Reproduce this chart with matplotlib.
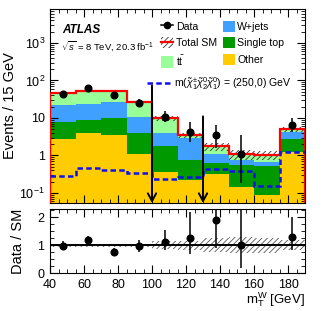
import numpy as np
import matplotlib
matplotlib.use("Agg")
import matplotlib.pyplot as plt
from matplotlib.patches import Patch
from matplotlib.lines import Line2D
from matplotlib.ticker import FixedLocator, MultipleLocator, NullFormatter, LogLocator

plt.rcParams['font.family'] = ['Liberation Sans', 'DejaVu Sans']
plt.rcParams['mathtext.fontset'] = 'custom'
plt.rcParams['mathtext.rm'] = 'Liberation Sans'
plt.rcParams['mathtext.it'] = 'Liberation Sans:italic'
plt.rcParams['mathtext.bf'] = 'Liberation Sans:bold'
plt.rcParams['hatch.linewidth'] = 0.6

# ---- data ----
edges = [40, 55, 70, 85, 100, 115, 130, 145, 160, 175, 190]
other = [2.7, 3.9, 3.6, 1.08, 0.37, 0.22, 0.33, 0.146, 0.087, 1.2]
single_top = [5.3, 4.8, 6.1, 2.82, 1.43, 0.53, 0.28, 0.41, 0.43, 1.52]
w_jets = [13.5, 15.3, 16.3, 6.9, 2.1, 2.09, 0.49, 0.22, 0.16, 1.58]
ttbar = [23.5, 28.0, 26.0, 15.2, 5.8, 0.61, 0.67, 0.29, 0.34, 0.7]
rel_unc = [0.06, 0.06, 0.06, 0.06, 0.14, 0.16, 0.25, 0.28, 0.27, 0.17]
signal = [0.28, 0.47, 0.42, 0.34, 0.23, 0.26, 0.43, 0.39, 0.155, 1.2]
data = [44, 61, 40, 25, 10.7, 4.3, 3.4, 1.07, np.nan, 6.4]
data_err_lo = [6.6, 7.8, 6.3, 5.0, 2.8, 2.0, 1.8, 0.88, np.nan, 2.3]
data_err_hi = [7.7, 8.8, 7.4, 6.1, 4.3, 3.3, 3.1, 2.5, np.nan, 3.7]
arrow_x = [100, 130]
arrow_top = [73, 11]

c_other = '#ffcc00'
c_st = '#009900'
c_w = '#3fa0ff'
c_tt = '#99ff99'

edges_a = np.array(edges, float)
centers = 0.5 * (edges_a[1:] + edges_a[:-1])
comps = [np.array(other), np.array(single_top), np.array(w_jets), np.array(ttbar)]
colors = [c_other, c_st, c_w, c_tt]
total = np.sum(comps, axis=0)
unc = np.array(rel_unc)
d = np.array(data, float)
elo = np.array(data_err_lo, float)
ehi = np.array(data_err_hi, float)

YLO, YHI = 0.054, 8000

fig = plt.figure(figsize=(3.24, 3.11), dpi=100)
ax = fig.add_axes([50/324, 1-203/311, 255/324, 194/311])
ax2 = fig.add_axes([50/324, 1-273/311, 255/324, 64/311])

# stack
base = np.full(len(total), 1e-4)
for comp, col in zip(comps, colors):
    ax.stairs(base + comp, edges_a, baseline=base, fill=True, color=col, lw=0, zorder=1)
    base = base + comp

# uncertainty hatch
ax.stairs(total*(1+unc), edges_a, baseline=total*(1-unc), fill=True, facecolor='none',
          edgecolor='#333333', hatch='//////', lw=0, zorder=2)
# total line
ax.stairs(total, edges_a, baseline=1e-4, color='red', lw=1.6, zorder=3)
# signal
ax.stairs(signal, edges_a, baseline=None, color='#1010ee', lw=1.8, ls=(0, (2.2, 1.3)), zorder=4)
# data
ax.errorbar(centers, d, yerr=[elo, ehi], fmt='o', color='black', ms=4.8, lw=1.1,
            capsize=0, zorder=6)
# arrows
for xa, yt in zip(arrow_x, arrow_top):
    ax.annotate('', xy=(xa, YLO), xytext=(xa, yt),
                arrowprops=dict(arrowstyle='->,head_length=0.55,head_width=0.3', lw=1.4,
                                color='black', shrinkA=0, shrinkB=0),
                annotation_clip=False, zorder=7)

ax.set_yscale('log')
ax.set_xlim(40, 190)
ax.set_ylim(YLO, YHI)
ax.yaxis.set_major_locator(FixedLocator([0.1, 1, 10, 100, 1000]))
ax.set_yticklabels([r'$10^{-1}$', '1', '10', r'$10^{2}$', r'$10^{3}$'])
ax.yaxis.set_minor_locator(LogLocator(base=10, subs=np.arange(2, 10), numticks=20))
ax.yaxis.set_minor_formatter(NullFormatter())
ax.xaxis.set_major_locator(MultipleLocator(20))
ax.xaxis.set_minor_locator(MultipleLocator(5))
ax.set_xticklabels([])
ax.set_ylabel('Events / 15 GeV', fontsize=10.5, labelpad=2)
for a in (ax, ax2):
    a.tick_params(which='both', direction='in', top=True, right=True, labelsize=9)
    a.tick_params(which='major', length=6, width=0.8)
    a.tick_params(which='minor', length=3, width=0.6)

# texts
ax.text(0.047, 0.89, 'ATLAS', transform=ax.transAxes, fontsize=8.5, fontweight='bold',
        fontstyle='italic', va='center', ha='left')
ax.text(0.043, 0.81, r'$\sqrt{s}$ = 8 TeV, 20.3 fb$^{-1}$', transform=ax.transAxes,
        fontsize=6.8, va='center', ha='left')

# legend
h_data = Line2D([], [], marker='o', color='black', ms=4.5, lw=1.1)
h_tot = (Patch(facecolor='none', edgecolor='#333333', hatch='//////', lw=0),
         Line2D([], [], color='red', lw=1.6))
h_tt = Patch(facecolor=c_tt, lw=0)
h_w = Patch(facecolor=c_w, lw=0)
h_st = Patch(facecolor=c_st, lw=0)
h_o = Patch(facecolor=c_other, lw=0)
leg = ax.legend([h_data, h_tot, h_tt, h_w, h_st, h_o],
                ['Data', 'Total SM', r'$\mathrm{t\bar{t}}$', 'W+jets', 'Single top', 'Other'],
                ncol=2, loc='upper left', bbox_to_anchor=(0.435, 0.94), frameon=False,
                fontsize=7.6, handlelength=1.15, handleheight=1.25, handletextpad=0.25,
                labelspacing=0.5, columnspacing=0.55, borderpad=0, borderaxespad=0)
ax.add_artist(leg)
h_sig = Line2D([], [], color='#1010ee', lw=1.8, ls=(0, (2.2, 1.3)))
ax.legend([h_sig], [r'm($\tilde{\chi}_1^{\pm}\tilde{\chi}_2^{0}\tilde{\chi}_1^{0}$) = (250,0) GeV'],
          loc='upper left', bbox_to_anchor=(0.38, 0.66), frameon=False, fontsize=7.6,
          handlelength=2.4, handletextpad=0.2, borderpad=0, borderaxespad=0)

# ratio panel
ratio = d / total
ax2.stairs(1+unc, edges_a, baseline=1-unc, fill=True, facecolor='none',
           edgecolor='#555555', hatch='//////', lw=0, zorder=1)
ax2.axhline(1, color='black', lw=1.4, zorder=2)
ax2.errorbar(centers, ratio, yerr=[elo/total, ehi/total], fmt='o', color='black', ms=4.8,
             lw=1.1, capsize=0, zorder=3)
ax2.set_xlim(40, 190)
ax2.set_ylim(0, 2.3)
ax2.yaxis.set_major_locator(FixedLocator([0, 1, 2]))
ax2.yaxis.set_minor_locator(MultipleLocator(0.25))
ax2.xaxis.set_major_locator(MultipleLocator(20))
ax2.xaxis.set_minor_locator(MultipleLocator(5))
ax2.set_ylabel('Data / SM', fontsize=10.5, labelpad=9)
ax2.set_xlabel(r'$\mathrm{m}_{\mathrm{T}}^{\mathrm{W}}$ [GeV]', fontsize=9.5, loc='right', labelpad=0)
ax2.tick_params(axis='x', which='major', pad=4)
ax2.tick_params(axis='y', which='major', pad=4)

fig.savefig('out.png', dpi=100)
